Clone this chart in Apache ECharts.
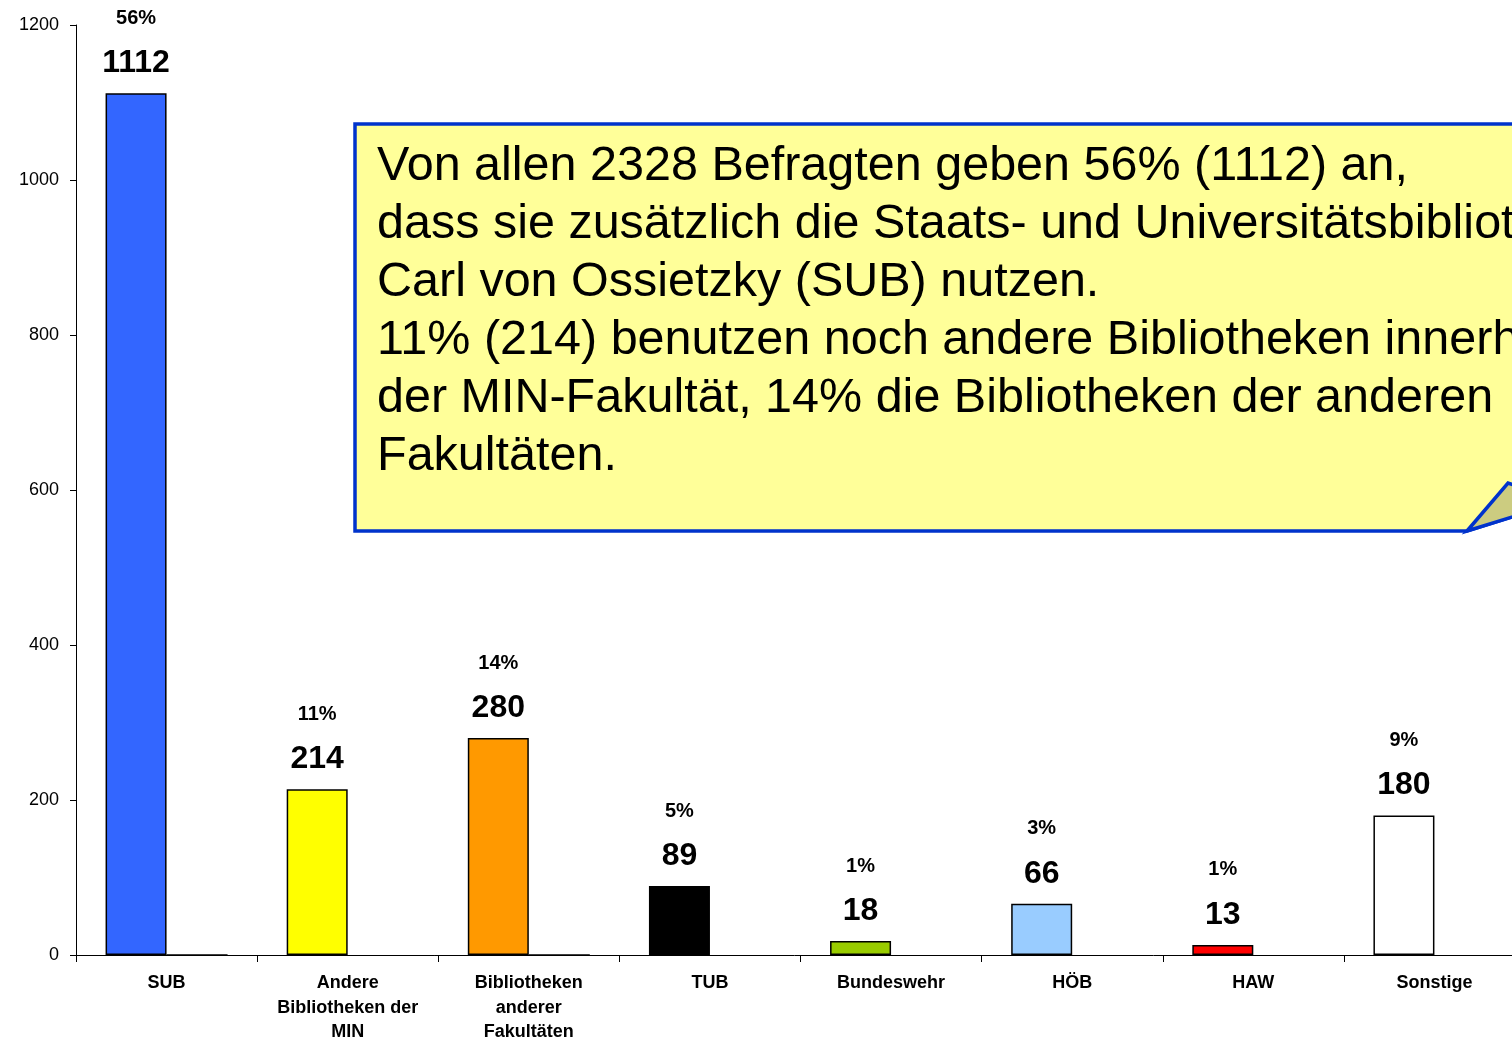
<!DOCTYPE html>
<html>
<head>
<meta charset="utf-8">
<title>Bibliotheksnutzung</title>
<script src="https://cdn.jsdelivr.net/npm/echarts@6/dist/echarts.min.js"></script>
<style>
  html, body { margin: 0; padding: 0; background: #fff; }
  #main { width: 1512px; height: 1042px; }
</style>
</head>
<body>
<div id="main"></div>
<script>
// Kategorien und Werte
var categories = ['SUB', 'Andere\nBibliotheken der\nMIN', 'Bibliotheken\nanderer\nFakultäten', 'TUB', 'Bundeswehr', 'HÖB', 'HAW', 'Sonstige'];
var counts = [1112, 214, 280, 89, 18, 66, 13, 180];
var percents = ['56%', '11%', '14%', '5%', '1%', '3%', '1%', '9%'];
var secondSeries = [0, null, 0, null, null, null, null, null];
var barColors = ['#3366ff', '#ffff00', '#ff9900', '#000000', '#99cc00', '#99ccff', '#ff0000', '#ffffff'];
var yTicks = [0, 200, 400, 600, 800, 1000, 1200];

var noteText = 'Von allen 2328 Befragten geben 56% (1112) an,\n' +
    'dass sie zusätzlich die Staats- und Universitätsbibliothek\n' +
    'Carl von Ossietzky (SUB) nutzen.\n' +
    '11% (214) benutzen noch andere Bibliotheken innerhalb\n' +
    'der MIN-Fakultät, 14% die Bibliotheken der anderen\n' +
    'Fakultäten.';

var font = '"Liberation Sans", Arial, sans-serif';

var myChart = echarts.init(document.getElementById('main'));

var mainData = counts.map(function(v, i) {
    return {
        value: v,
        itemStyle: { color: barColors[i] }
    };
});

var option = {
    backgroundColor: '#ffffff',
    animation: false,
    grid: {
        left: 76,
        top: 25,
        bottom: 87,
        width: 1449,
        containLabel: false,
        outerBoundsMode: 'none'
    },
    xAxis: {
        type: 'category',
        data: categories,
        axisLine: { lineStyle: { color: '#000', width: 1 } },
        axisTick: { show: true, length: 7, lineStyle: { color: '#000' } },
        axisLabel: {
            interval: 0,
            margin: 16,
            color: '#000',
            fontFamily: font,
            fontWeight: 'bold',
            fontSize: 18,
            lineHeight: 24.5
        }
    },
    yAxis: {
        type: 'value',
        min: yTicks[0],
        max: yTicks[yTicks.length - 1],
        interval: 200,
        splitLine: { show: false },
        axisLine: { show: true, lineStyle: { color: '#000', width: 1 } },
        axisTick: { show: true, length: 6, lineStyle: { color: '#000' } },
        axisLabel: {
            margin: 17,
            color: '#000',
            fontFamily: font,
            fontSize: 18,
            formatter: function(v) { return String(v); }
        }
    },
    series: [{
        type: 'bar',
        data: mainData,
        barWidth: 61,
        barGap: '0%',
        itemStyle: { borderColor: '#000', borderWidth: 1.5 },
        label: {
            show: true,
            position: 'top',
            distance: 10,
            formatter: function(p) {
                return '{p|' + percents[p.dataIndex] + '}\n{v|' + p.value + '}';
            },
            rich: {
                p: { fontFamily: font, fontWeight: 'bold', fontSize: 20, lineHeight: 50, color: '#000' },
                v: { fontFamily: font, fontWeight: 'bold', fontSize: 32, lineHeight: 40, color: '#000' }
            }
        }
    }, {
        type: 'bar',
        data: secondSeries,
        barWidth: 61,
        barGap: '0%',
        itemStyle: { color: '#ffffff', borderColor: '#000', borderWidth: 1.5 }
    }],
    graphic: [{
        type: 'polygon',
        shape: { points: [[355, 124], [1700, 124], [1700, 470], [1560, 502], [1467, 531], [355, 531]] },
        style: { fill: '#ffff99', stroke: '#0033cc', lineWidth: 3.5 },
        z: 10
    }, {
        type: 'polygon',
        shape: { points: [[1467, 531], [1508, 483], [1560, 502]] },
        style: { fill: '#cccc80', stroke: '#0033cc', lineWidth: 3.5 },
        z: 11
    }, {
        type: 'text',
        left: 377,
        top: 138,
        style: {
            text: noteText,
            font: '48.5px ' + font,
            lineHeight: 58,
            fill: '#000'
        },
        z: 12
    }]
};

myChart.setOption(option);
</script>
</body>
</html>
